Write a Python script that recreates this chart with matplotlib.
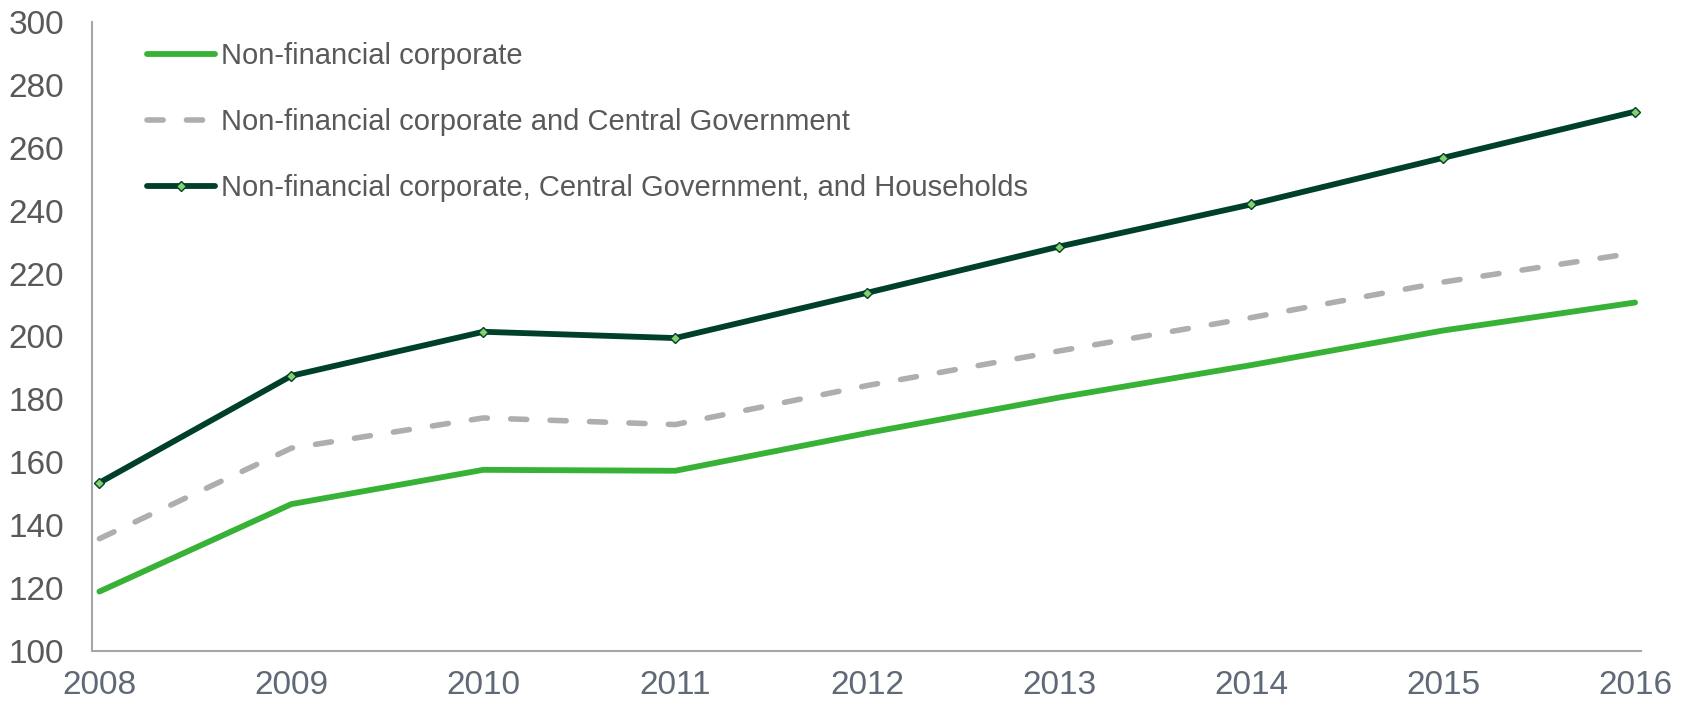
import matplotlib
matplotlib.use("Agg")
import matplotlib.pyplot as plt

plt.rcParams['font.family'] = ['Liberation Sans', 'DejaVu Sans']

years = [2008, 2009, 2010, 2011, 2012, 2013, 2014, 2015, 2016]
nfc = [118.9, 146.7, 157.6, 157.3, 169.3, 180.6, 190.9, 201.9, 210.8]
nfc_gov = [135.7, 164.5, 174.1, 172.0, 184.4, 195.4, 206.0, 217.3, 226.6]
nfc_gov_hh = [153.5, 187.5, 201.5, 199.5, 213.9, 228.6, 242.0, 256.8, 271.5]
labels = ["Non-financial corporate",
          "Non-financial corporate and Central Government",
          "Non-financial corporate, Central Government, and Households"]
yticks = [100, 120, 140, 160, 180, 200, 220, 240, 260, 280, 300]

fig = plt.figure(figsize=(16.9, 7.03), dpi=100)
ax = fig.add_axes([0.0544, 0.074, 0.9166, 0.8947])

ax.plot(years, nfc, color='#38B236', lw=4.2, solid_capstyle='round', label=labels[0])
ax.plot(years, nfc_gov, color='#AEAEAE', lw=4.0, dashes=(2.9, 4.2), dash_capstyle='round',
        label=labels[1])
ax.plot(years, nfc_gov_hh, color='#00402A', lw=4.2, solid_capstyle='round',
        marker='D', markersize=5, markerfacecolor='#86CF6E', markeredgecolor='#00402A',
        markeredgewidth=1.0, label=labels[2])

ax.set_xlim(2008 - 0.039, 2016 + 0.031)
ax.set_ylim(100, 300)
ax.set_yticks(yticks)
ax.set_xticks(years)
ax.tick_params(axis='both', length=0)
ax.tick_params(axis='y', labelsize=24, labelcolor='#595959', pad=20)
ax.tick_params(axis='x', labelsize=24, labelcolor='#5F6A76', pad=14)
for s in ['top', 'right']:
    ax.spines[s].set_visible(False)
for s in ['left', 'bottom']:
    ax.spines[s].set_color('#A6A6A6')
    ax.spines[s].set_linewidth(1.5)

leg = ax.legend(loc='upper left', bbox_to_anchor=(0.0355, 0.968), frameon=False,
                fontsize=21, handlelength=2.35, handletextpad=0.2, labelspacing=1.3,
                borderpad=0, borderaxespad=0)
for t in leg.get_texts():
    t.set_color('#595959')

fig.savefig('out.png', dpi=100)
